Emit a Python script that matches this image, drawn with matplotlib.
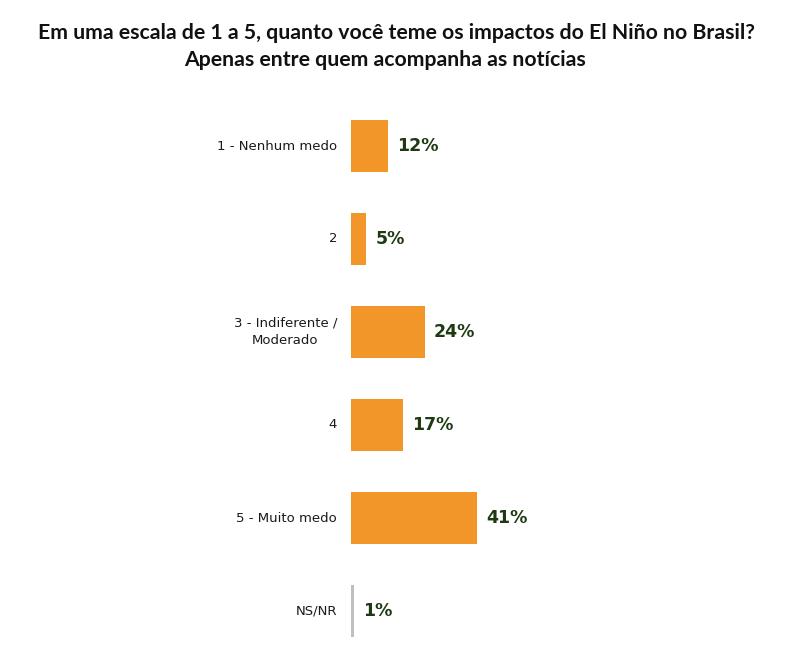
import matplotlib
matplotlib.use("Agg")
import matplotlib.pyplot as plt

categories = ["1 - Nenhum medo", "2", "3 - Indiferente /\nModerado", "4", "5 - Muito medo", "NS/NR"]
values = [12, 5, 24, 17, 41, 1]
value_labels = ["12%", "5%", "24%", "17%", "41%", "1%"]
colors = ["#F39629", "#F39629", "#F39629", "#F39629", "#F39629", "#BFBFBF"]
title_lines = ["Em uma escala de 1 a 5, quanto você teme os impactos do El Niño no Brasil?",
               "Apenas entre quem acompanha as notícias"]

W, H = 797, 664
fig = plt.figure(figsize=(W / 100, H / 100), dpi=100)
fig.patch.set_facecolor("white")

ax_left_px = 351
ax_w_px = 398.5
px_per_unit = 3.08
ax = fig.add_axes([ax_left_px / W, 6.5 / H, ax_w_px / W, 558 / H])
ax.set_xlim(0, ax_w_px / px_per_unit)
ax.set_ylim(5.5, -0.5)

for i, (v, c) in enumerate(zip(values, colors)):
    w = v if i < 5 else 1.0
    ax.barh(i, w, height=0.55, color=c, edgecolor="none")

for i, (v, lab) in enumerate(zip(values, value_labels)):
    xv = v if i < 5 else 1.0
    ax.annotate(lab, xy=(xv, i), xytext=(6.5, 0), textcoords="offset points",
                ha="left", va="center", fontsize=12.5, fontweight="bold",
                color="#1E3A12", family="DejaVu Sans")

for i, cat in enumerate(categories):
    ax.annotate(cat, xy=(0, i), xytext=(-10, 0), textcoords="offset points",
                ha="right", va="center", fontsize=9.5, color="#1a1a1a",
                family="DejaVu Sans", multialignment="center", linespacing=1.5)

ax.axis("off")

fig.text(396 / W, 1 - 33 / H, title_lines[0], ha="center", va="center",
         fontsize=15.3, fontweight="bold", family="Lato", color="#111111")
fig.text(385 / W, 1 - 60 / H, title_lines[1], ha="center", va="center",
         fontsize=15.3, fontweight="bold", family="Lato", color="#111111")

fig.savefig("out.png", dpi=100, facecolor="white")
